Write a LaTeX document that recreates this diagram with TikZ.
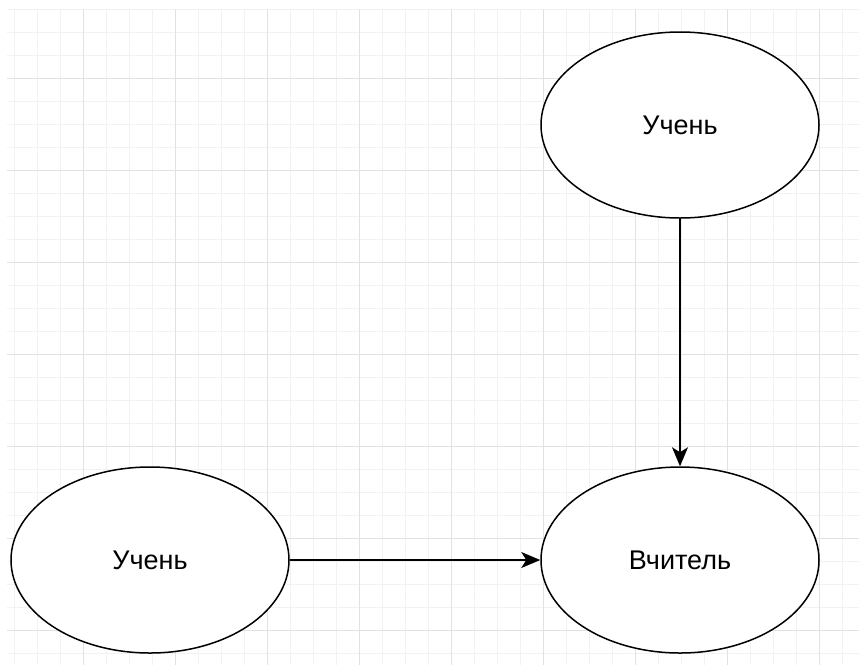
\documentclass[tikz,border=0pt]{standalone}
\usepackage{fontspec}
\setmainfont{Liberation Sans}
\usetikzlibrary{shapes.geometric,arrows.meta}
\definecolor{gridminor}{HTML}{F2F2F2}
\definecolor{gridmajor}{HTML}{E2E2E2}
\begin{document}
\begin{tikzpicture}[x=1pt,y=-1pt] % координаты как в пикселях
\tikzstyle{myellipse} = [ellipse, draw, line width=1.5pt, fill=white, minimum width=278pt, minimum height=186pt, inner sep=0pt, font=\fontsize{27}{32}\selectfont] % стиль овала
\tikzstyle{myarrow} = [line width=1.5pt, -{Stealth[length=19pt,width=16pt,inset=5pt]}] % стиль стрелки

\useasboundingbox (0,0) rectangle (859,665);

% сетка
\begin{scope}
\clip (7,9) rectangle (859,665);
\foreach \x in {14,37,...,859} \draw[gridminor, line width=1pt] (\x,9) -- (\x,665);
\foreach \y in {9,32,...,665} \draw[gridminor, line width=1pt] (7,\y) -- (859,\y);
\foreach \x in {83,175,...,859} \draw[gridmajor, line width=1pt] (\x,9) -- (\x,665);
\foreach \y in {78,170,...,665} \draw[gridmajor, line width=1pt] (7,\y) -- (859,\y);
\end{scope}

\node[myellipse] (uchenTop) at (680,125) {Учень}; % верхний ученик
\node[myellipse] (uchenLeft) at (150,560) {Учень}; % левый ученик
\node[myellipse] (vchytel) at (680,560) {Вчитель}; % учитель

\draw[myarrow] (uchenTop) -- (vchytel);
\draw[myarrow] (uchenLeft) -- (vchytel);
\end{tikzpicture}
\end{document}
